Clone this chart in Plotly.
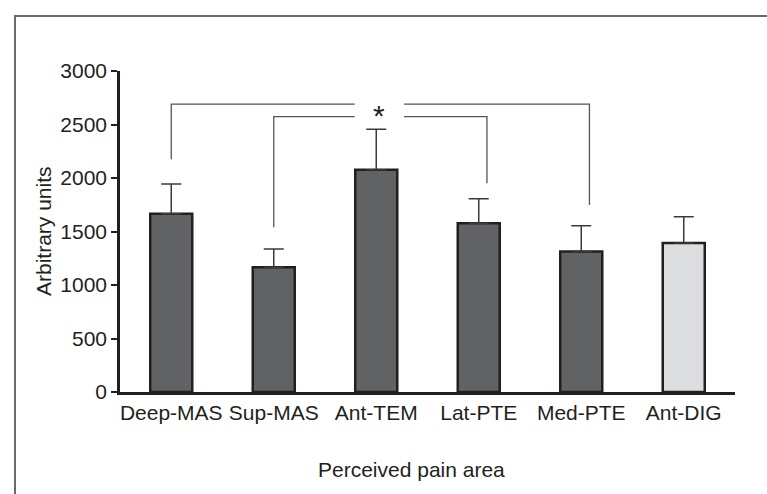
import plotly.graph_objects as go

# ---- data ----
categories = ["Deep-MAS", "Sup-MAS", "Ant-TEM", "Lat-PTE", "Med-PTE", "Ant-DIG"]
values = [1665, 1167, 2078, 1578, 1313, 1393]
errors = [278, 169, 378, 227, 240, 244]
bar_groups = ["dark", "dark", "dark", "dark", "dark", "light"]

y_ticks = [0, 500, 1000, 1500, 2000, 2500, 3000]

# significance brackets: (left category, right category)
bracket_spans = [("Deep-MAS", "Med-PTE"), ("Sup-MAS", "Lat-PTE")]
bracket_tops = [2690, 2574]
bracket_left_ends = [2176, 1539]
bracket_right_ends = [1747, 1952]
sig_label = "*"
sig_y = 2624

# ---- style ----
W, H = 767, 494
L, R, T, B = 120, 32, 71, 102
pw, ph = W - L - R, H - T - B
dark_fill = "#616264"
light_fill = "#dcdddf"
edge = "#231f20"
txt = "#231f20"
font_family = "Liberation Sans, Arial, sans-serif"
fs = 21
right_offset = 0.08
gap_half = 0.24

xs = list(range(len(categories)))
fills = [dark_fill if g == "dark" else light_fill for g in bar_groups]

fig = go.Figure()
fig.add_trace(go.Bar(
    x=xs, y=values, width=0.41,
    marker=dict(color=fills, line=dict(color=edge, width=2.5)),
    error_y=dict(type="data", array=errors, arrayminus=[0] * len(errors),
                 symmetric=False, color="#3a3a3a", thickness=1.5, width=10),
    hoverinfo="skip", showlegend=False,
))

star_x = categories.index("Ant-TEM") + 0.03
for (c1, c2), top, lend, rend in zip(bracket_spans, bracket_tops,
                                      bracket_left_ends, bracket_right_ends):
    x1 = categories.index(c1)
    x2 = categories.index(c2) + right_offset
    bx = [x1, x1, star_x - gap_half, None, star_x + gap_half, x2, x2]
    by = [lend, top, top, None, top, top, rend]
    fig.add_trace(go.Scatter(x=bx, y=by, mode="lines",
                             line=dict(color="#555555", width=1.3),
                             hoverinfo="skip", showlegend=False))

fig.add_annotation(x=star_x, y=sig_y, text=sig_label, showarrow=False,
                   xref="x", yref="y", font=dict(size=30, color=txt,
                   family=font_family), yanchor="middle", yshift=-4)

fig.add_annotation(x=(43 - L) / pw, y=(H - B - 231) / ph, xref="paper", yref="paper",
                   text="Arbitrary units", textangle=-90, showarrow=False,
                   font=dict(size=fs, color=txt, family=font_family),
                   xanchor="center", yanchor="middle")
fig.add_annotation(x=(411.5 - L) / pw, y=(H - B - 469) / ph, xref="paper", yref="paper",
                   text="Perceived pain area", showarrow=False,
                   font=dict(size=fs, color=txt, family=font_family),
                   xanchor="center", yanchor="middle")

# outer frame (left + top edges)
fx0 = (15 - L) / pw
fy0 = (H - B - 16) / ph
fig.add_shape(type="path", xref="paper", yref="paper",
              path=f"M {fx0} -2 L {fx0} {fy0} L 2 {fy0}",
              line=dict(color="#6a6a6a", width=2))

fig.update_layout(
    width=W, height=H,
    margin=dict(l=L, r=R, t=T, b=B),
    paper_bgcolor="white", plot_bgcolor="white",
    font=dict(family=font_family, size=fs, color=txt),
)
fig.update_xaxes(range=[-0.5, 5.5], tickvals=xs, ticktext=categories,
                 showline=True, linecolor=edge, linewidth=2.5, ticks="",
                 showgrid=False, zeroline=False,
                 tickfont=dict(size=fs, color=txt))
fig.update_yaxes(range=[0, 3000], tickvals=y_ticks, showline=True,
                 linecolor=edge, linewidth=2.5, ticks="outside", ticklen=6,
                 tickwidth=2, tickcolor=edge, showgrid=False, zeroline=False,
                 tickfont=dict(size=fs, color=txt))

fig.write_html("out.html", config={"displayModeBar": False},
               post_script="document.body.style.margin='0';document.body.style.overflow='hidden';")
